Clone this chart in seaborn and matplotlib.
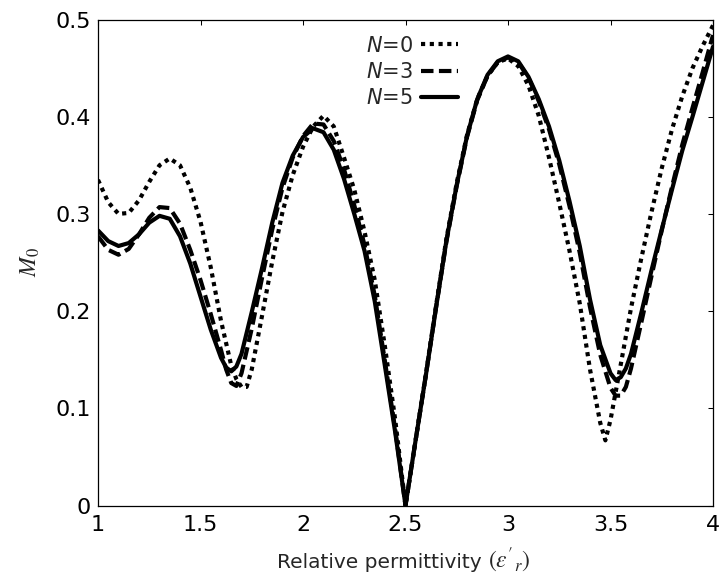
import matplotlib
matplotlib.use("Agg")
import matplotlib.pyplot as plt
import seaborn as sns
import pandas as pd

# ---- data ----
x_n0 = [1.00, 1.05, 1.10, 1.15, 1.20, 1.25, 1.30, 1.35, 1.40, 1.45, 1.50, 1.55, 1.60, 1.65,
        1.675, 1.70, 1.725, 1.75,
        1.80, 1.85, 1.90, 1.95, 2.00, 2.05, 2.10, 2.15, 2.20, 2.25, 2.30, 2.35, 2.40, 2.45, 2.50,
        2.55, 2.60, 2.65, 2.70, 2.75, 2.80, 2.85, 2.90, 2.95, 3.00, 3.05, 3.10, 3.15, 3.20, 3.25,
        3.30, 3.35, 3.40, 3.45, 3.475,
        3.50, 3.55, 3.60, 3.65, 3.70, 3.75, 3.80, 3.85, 3.90, 3.95, 4.00]
y_n0 = [0.335, 0.312, 0.300, 0.301, 0.314, 0.333, 0.350, 0.357, 0.350, 0.327, 0.292, 0.245, 0.190, 0.144,
        0.130, 0.122, 0.122, 0.140,
        0.195, 0.251, 0.302, 0.340, 0.369, 0.390, 0.401, 0.390, 0.358, 0.325, 0.282, 0.232, 0.163, 0.088, 0.000,
        0.068, 0.136, 0.207, 0.275, 0.332, 0.381, 0.418, 0.442, 0.456, 0.460, 0.452, 0.432, 0.401, 0.358, 0.311,
        0.262, 0.208, 0.140, 0.085, 0.067,
        0.088, 0.145, 0.203, 0.254, 0.302, 0.347, 0.387, 0.421, 0.450, 0.473, 0.494]

x_n3 = [1.00, 1.05, 1.10, 1.15, 1.20, 1.25, 1.30, 1.35, 1.40, 1.45, 1.50, 1.55, 1.60,
        1.625, 1.65, 1.675,
        1.70, 1.75, 1.80, 1.85, 1.90, 1.95, 2.00, 2.05, 2.10, 2.15, 2.20, 2.25, 2.30, 2.35, 2.40, 2.45, 2.50,
        2.55, 2.60, 2.65, 2.70, 2.75, 2.80, 2.85, 2.90, 2.95, 3.00, 3.05, 3.10, 3.15, 3.20, 3.25, 3.30,
        3.35, 3.40, 3.45, 3.50,
        3.525, 3.55, 3.575,
        3.60, 3.65, 3.70, 3.75, 3.80, 3.85, 3.90, 3.95, 4.00]
y_n3 = [0.277, 0.263, 0.258, 0.264, 0.279, 0.296, 0.307, 0.306, 0.290, 0.263, 0.232, 0.197, 0.160,
        0.140, 0.126, 0.123,
        0.136, 0.182, 0.234, 0.284, 0.327, 0.358, 0.380, 0.393, 0.392, 0.375, 0.346, 0.309, 0.268, 0.216, 0.148, 0.078, 0.000,
        0.068, 0.135, 0.205, 0.272, 0.329, 0.379, 0.417, 0.442, 0.456, 0.461, 0.456, 0.440, 0.416, 0.387, 0.351, 0.308,
        0.260, 0.204, 0.155, 0.121,
        0.113, 0.113, 0.122,
        0.141, 0.188, 0.236, 0.283, 0.328, 0.371, 0.409, 0.446, 0.484]

x_n5 = [1.00, 1.05, 1.10, 1.15, 1.20, 1.25, 1.30, 1.35, 1.40, 1.45, 1.50, 1.55, 1.60,
        1.625, 1.65, 1.675,
        1.70, 1.75, 1.80, 1.85, 1.90, 1.95, 2.00, 2.05, 2.10, 2.15, 2.20, 2.25, 2.30, 2.35, 2.40, 2.45, 2.50,
        2.55, 2.60, 2.65, 2.70, 2.75, 2.80, 2.85, 2.90, 2.95, 3.00, 3.05, 3.10, 3.15, 3.20, 3.25, 3.30,
        3.35, 3.40, 3.45, 3.50,
        3.525, 3.55, 3.575,
        3.60, 3.65, 3.70, 3.75, 3.80, 3.85, 3.90, 3.95, 4.00]
y_n5 = [0.283, 0.272, 0.267, 0.270, 0.279, 0.291, 0.298, 0.295, 0.277, 0.249, 0.215, 0.181, 0.152,
        0.142, 0.138, 0.143,
        0.156, 0.199, 0.244, 0.291, 0.332, 0.360, 0.379, 0.388, 0.384, 0.366, 0.336, 0.300, 0.262, 0.210, 0.143, 0.075, 0.000,
        0.068, 0.135, 0.205, 0.273, 0.330, 0.380, 0.418, 0.443, 0.457, 0.462, 0.457, 0.441, 0.418, 0.390, 0.355, 0.313,
        0.267, 0.212, 0.165, 0.136,
        0.129, 0.132, 0.141,
        0.156, 0.198, 0.242, 0.284, 0.325, 0.365, 0.400, 0.436, 0.472]

series_labels = [r"$N$=0", r"$N$=3", r"$N$=5"]
x_ticks = [1, 1.5, 2, 2.5, 3, 3.5, 4]
x_ticklabels = ["1", "1.5", "2", "2.5", "3", "3.5", "4"]
y_ticks = [0, 0.1, 0.2, 0.3, 0.4, 0.5]
y_ticklabels = ["0", "0.1", "0.2", "0.3", "0.4", "0.5"]
xlabel_text = "Relative permittivity"
xlabel_math = r"$(\varepsilon^{\prime}{}_{r})$"
ylabel_text = r"$M_0$"

# ---- styling ----
sns.set_style("white")
plt.rcParams["font.family"] = ["DejaVu Sans"]
plt.rcParams["mathtext.fontset"] = "stix"

W, H = 721, 583
fig = plt.figure(figsize=(W / 100, H / 100), dpi=100)
left_px, right_px, top_px, bottom_px = 98, 713, 19.5, 505.5
ax = fig.add_axes([left_px / W, (H - bottom_px) / H,
                   (right_px - left_px) / W, (bottom_px - top_px) / H])

styles = [(0, (1.0, 1.1)), (0, (3.0, 1.3)), "-"]
data = [(x_n0, y_n0), (x_n3, y_n3), (x_n5, y_n5)]
for (xs, ys), ls, lab in zip(data, styles, series_labels):
    assert len(xs) == len(ys)
    df = pd.DataFrame({"x": xs, "y": ys})
    sns.lineplot(data=df, x="x", y="y", ax=ax, color="black", linewidth=3.0,
                 estimator=None, sort=False, legend=False)
    ax.lines[-1].set_linestyle(ls)
    ax.lines[-1].set_label(lab)

ax.set_xlim(1, 4)
ax.set_ylim(0, 0.5)
ax.set_xticks(x_ticks)
ax.set_xticklabels(x_ticklabels)
ax.set_yticks(y_ticks)
ax.set_yticklabels(y_ticklabels)
ax.tick_params(direction="in", length=3.6, width=0.75, top=True, right=True,
               labelsize=16, colors="black")
ax.tick_params(axis="x", pad=7)
ax.tick_params(axis="y", pad=5)
for s in ax.spines.values():
    s.set_visible(True)
    s.set_linewidth(0.9)
    s.set_color("black")

ax.set_xlabel("")
ax.set_ylabel(ylabel_text, fontsize=17, labelpad=10)

# x label: sans text followed by a serif math part, as in the reference
fig.text(277 / W, (H - 568) / H, xlabel_text, fontsize=14.5, ha="left", va="baseline")
fig.text(488 / W, (H - 568) / H, xlabel_math, fontsize=17, ha="left", va="baseline")

leg = ax.legend(handles=ax.lines[:3], labels=series_labels, loc="upper left",
                bbox_to_anchor=(0.4215, 0.984), frameon=False, fontsize=15,
                markerfirst=False, handlelength=1.8, handletextpad=0.4,
                labelspacing=0.3, borderaxespad=0.0)
for t in leg.get_texts():
    t.set_math_fontfamily("dejavusans")

fig.savefig("out.png", dpi=100)
